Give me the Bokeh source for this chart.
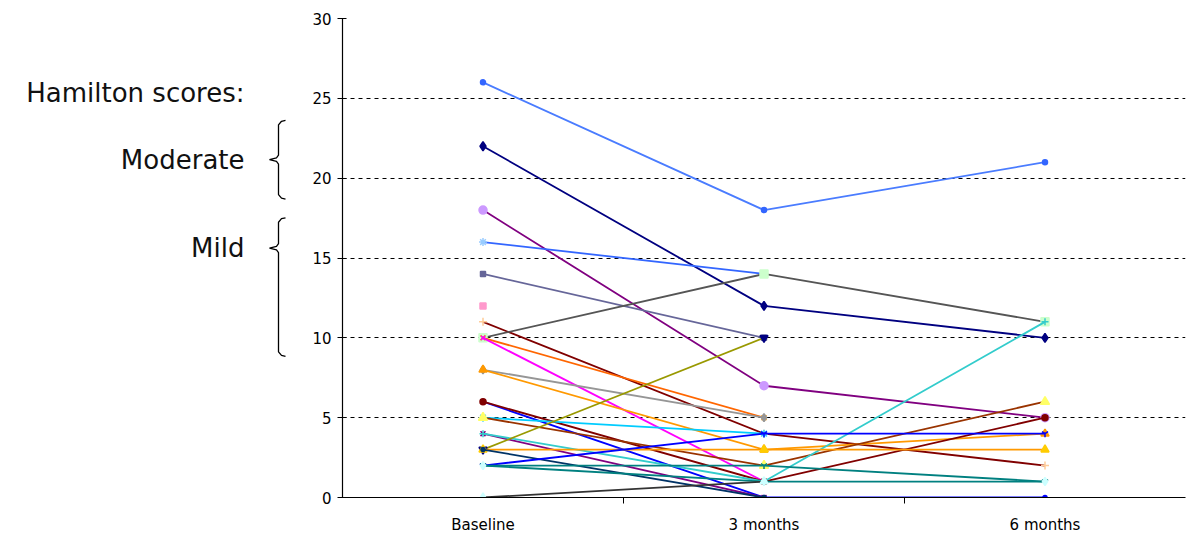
import math
from bokeh.plotting import figure
from bokeh.layouts import row
from bokeh.models import Range1d, FixedTicker, ColumnDataSource
from bokeh.core.properties import value
from bokeh.embed import file_html
from bokeh.resources import INLINE

# ---- data ----
categories = ["Baseline", "3 months", "6 months"]
baseline = [26, 22, 18, 16, 14, 12, 11, 10, 10, 10, 8, 8, 6, 6, 5, 5, 4, 4, 3, 3, 3, 2, 2, 2, 0]
month3 = [18, 12, 7, 14, 10, None, 4, 14, 5, 1, 5, 3, 0, 1, 4, 2, 0, 1, 10, 3, 0, 4, 2, 1, 1]
month6 = [21, 10, 5, None, None, None, 2, 11, None, None, None, 4, 0, 5, None, 6, None, 11, None, 3, None, 4, 1, 1, None]
y_ticks = [0, 5, 10, 15, 20, 25, 30]
grid_ticks = [5, 10, 15, 20, 25]
side_texts = ["Hamilton scores:", "Moderate", "Mild"]

# ---- styles ----
line_colors = ["#4A7CFF", "#000080", "#800080", "#3366FF", "#666699", "#FF99CC", "#800000",
               "#555555", "#FF6600", "#FF00FF", "#969696", "#FF9900", "#0000FF", "#800000",
               "#00CCFF", "#993300", "#800080", "#33CCCC", "#999900", "#FF9900", "#003366",
               "#0000FF", "#008080", "#008080", "#333333"]
markers = ["circle", "diamond", "circle", "asterisk", "square", "square", "cross",
           "square", "x", "x", "diamond", "triangle", "circle", "circle",
           "asterisk", "triangle", "x", "cross", "inverted_triangle", "triangle", "circle",
           "y", "y", "diamond", "triangle"]
marker_colors = ["#3366FF", "#000080", "#CC99FF", "#99CCFF", "#666699", "#FF99CC", "#FFCC99",
                 "#CCFFCC", "#FF9900", "#FF00FF", "#969696", "#FF9900", "#0000FF", "#800000",
                 "#33CCFF", "#FFFF66", "#800080", "#33CCCC", "#000080", "#FFCC00", "#003366",
                 "#0000FF", "#008080", "#CCFFFF", "#CCFFFF"]
marker_sizes = [5, 9, 8, 8, 5, 6, 8, 8, 7, 6, 8, 8, 4, 6, 8, 9, 7, 7, 8, 8, 4, 7, 7, 8, 8]

FONT = "DejaVu Sans"
H = 536
LEFT_W = 290

# ---- main chart ----
p = figure(width=1192 - LEFT_W, height=H, output_backend="svg", toolbar_location=None,
           x_range=Range1d(0, 3), y_range=Range1d(0, 30),
           min_border_left=52, min_border_right=7, min_border_top=18, min_border_bottom=34)
p.outline_line_color = None

xpos = [i + 0.5 for i in range(len(categories))]

def nz(v):
    return float("nan") if v is None else v

for i in range(len(baseline)):
    ys = [nz(baseline[i]), nz(month3[i]), nz(month6[i])]
    p.line(xpos, ys, line_color=line_colors[i], line_width=1.8)
    px = [x for x, y in zip(xpos, ys) if not math.isnan(y)]
    py = [y for y in ys if not math.isnan(y)]
    src = ColumnDataSource(dict(x=px, y=py))
    p.scatter("x", "y", source=src, marker=markers[i], size=marker_sizes[i],
              fill_color=marker_colors[i], line_color=marker_colors[i], line_width=1.5)

p.xgrid.visible = False
p.ygrid.ticker = FixedTicker(ticks=grid_ticks)
p.ygrid.grid_line_color = "black"
p.ygrid.grid_line_dash = "4 4"
p.ygrid.grid_line_width = 1.2

xa = p.xaxis[0]
xa.ticker = FixedTicker(ticks=xpos, minor_ticks=[1, 2])
xa.major_label_overrides = {x: c for x, c in zip(xpos, categories)}
xa.major_tick_out = 0
xa.major_tick_in = 0
xa.minor_tick_out = 6
xa.minor_tick_in = 0
xa.minor_tick_line_color = "black"
xa.axis_line_color = "black"
xa.axis_line_width = 1.2
xa.major_label_text_font = FONT
xa.major_label_text_font_size = "15px"
xa.major_label_text_color = "black"
xa.major_label_standoff = 12

ya = p.yaxis[0]
ya.ticker = FixedTicker(ticks=y_ticks, minor_ticks=[])
ya.major_tick_out = 5
ya.major_tick_in = 4
ya.major_tick_line_color = "black"
ya.axis_line_color = "black"
ya.axis_line_width = 1.2
ya.major_label_text_font = FONT
ya.major_label_text_font_size = "15px"
ya.major_label_text_color = "black"
ya.major_label_standoff = 6

# ---- left annotation panel (pixel coordinates) ----
q = figure(width=LEFT_W, height=H, output_backend="svg", toolbar_location=None,
           x_range=Range1d(0, LEFT_W), y_range=Range1d(H, 0),
           min_border_left=0, min_border_right=0, min_border_top=0, min_border_bottom=0)
q.axis.visible = False
q.grid.visible = False
q.outline_line_color = None

q.text(x=[244, 244, 244], y=[83, 158, 257], text=side_texts,
       text_align="right", text_baseline="middle", text_font=value(FONT),
       text_font_size="26px", text_color="#111111")

def brace(t, m, b):
    xs = [285, 281, 278, 278, 276, 269, 276, 278, 278, 281, 285]
    ys = [t, t + 1, t + 5, m - 5, m - 2, m, m + 2, m + 5, b - 5, b - 1, b]
    return xs, ys

for (t, m, b) in [(114, 158, 202), (223, 257, 378)]:
    bx, by = brace(t, m, b)
    q.line(bx, by, line_color="black", line_width=1.3)

layout = row(q, p, spacing=0)
open("out.html", "w").write(file_html(layout, INLINE))
